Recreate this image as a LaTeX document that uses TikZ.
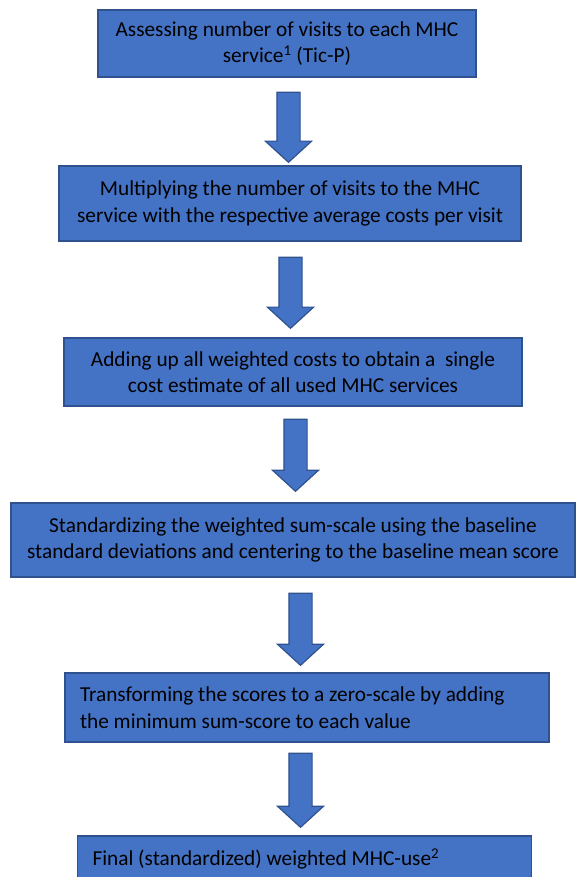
\documentclass[tikz,border=0pt]{standalone}
\usepackage{fontspec}
\setmainfont{Carlito}
\usetikzlibrary{shapes.arrows}
\definecolor{boxfill}{HTML}{4472C4}
\definecolor{boxline}{HTML}{2F528F}
\tikzset{
    every node/.style={inner sep=0pt, font=\fontsize{21.3}{26.5}\selectfont},
    stepbox/.style={rectangle, draw=boxline, fill=boxfill, line width=1.2pt, align=flush center},
    downarrow/.style={single arrow, draw=boxline, fill=boxfill, line width=1.2pt,
        shape border rotate=270, inner sep=11pt, minimum height=#1,
        single arrow head extend=11.5pt, single arrow tip angle=95}
}

\begin{document}
\begin{tikzpicture}[x=1pt, y=-1pt]
        \useasboundingbox (0,0) rectangle (581,877);
        \clip (0,0) rectangle (581,877);
        \node (s1) [stepbox, minimum width=378pt, minimum height=67pt] at (287,43.5)
                {Assessing number of visits to each MHC\\ service\textsuperscript{1} (Tic-P)};
        \node (s2) [stepbox, minimum width=462pt, minimum height=75pt] at (290,203.5)
                {Multiplying the number of visits to the MHC\\ service with the respective average costs per visit};
        \node (s3) [stepbox, minimum width=458pt, minimum height=68pt] at (293,372)
                {Adding up all weighted costs to obtain a\ \ single\\ cost estimate of all used MHC services};
        \node (s4) [stepbox, minimum width=564pt, minimum height=74pt] at (293,540)
                {Standardizing the weighted sum-scale using the baseline\\ standard deviations and centering to the baseline mean score};
        \node (s5) [stepbox, minimum width=484pt, minimum height=69pt, text width=454pt, align=flush left] at (307,707.5)
                {Transforming the scores to a zero-scale by adding\\ the minimum sum-score to each value};
        \node (s6) [stepbox, minimum width=454pt, minimum height=46pt, text width=424pt, align=flush left] at (304.5,859)
                {Final (standardized) weighted MHC-use\textsuperscript{2}};
        \node (a1) [downarrow=70pt] at (288.5,122) {};
        \node (a2) [downarrow=71pt] at (290.5,287.5) {};
        \node (a3) [downarrow=72pt] at (295.5,450) {};
        \node (a4) [downarrow=72pt] at (300.5,624) {};
        \node (a5) [downarrow=74pt] at (300.5,785) {};
\end{tikzpicture}
\end{document}
